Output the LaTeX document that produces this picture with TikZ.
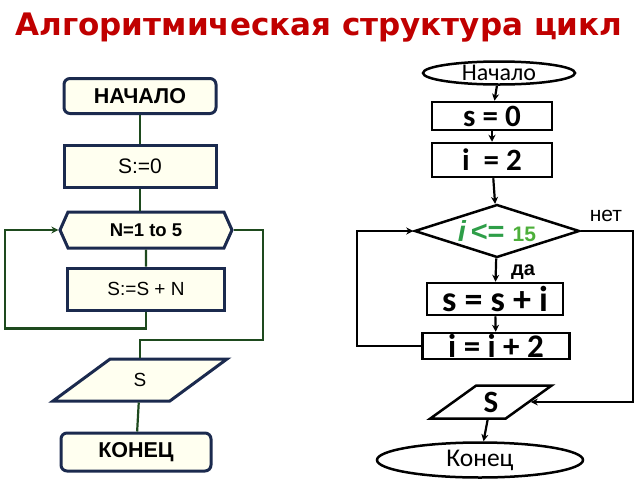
\documentclass[tikz,border=0pt]{standalone}
\usepackage{fontspec}
\setmainfont{Liberation Sans}
\newfontfamily\titlefont{DejaVu Sans}
\newfontfamily\calfont{Carlito}
\usepackage{tikz}
\usetikzlibrary{shapes.geometric}
\usetikzlibrary{shapes.symbols}
\usetikzlibrary{arrows.meta}
\definecolor{navy}{HTML}{1B2A4E}
\definecolor{cream}{HTML}{FFFFF0}
\definecolor{wire}{HTML}{1E4A1E}
\definecolor{titlered}{HTML}{C00000}
\definecolor{condgreen}{HTML}{2E9E48}
\definecolor{numgreen}{HTML}{4DAF3A}

\begin{document}
\begin{tikzpicture}[x=1pt,y=-1pt]

\tikzset{
  blk/.style={draw=navy, line width=3pt, fill=cream, inner sep=0pt,
    font=\fontsize{19}{21}\selectfont},
  term/.style={blk, rounded corners=6pt, font=\bfseries\fontsize{21.5}{23}\selectfont},
  wireline/.style={draw=wire, line width=2.2pt},
  box/.style={draw, line width=2.5pt, inner sep=0pt, font=\calfont\bfseries\fontsize{31}{33}\selectfont},
  oval/.style={box, ellipse, font=\calfont\fontsize{24}{26}\selectfont},
  flow/.style={line width=2.2pt, -{Stealth[length=7pt,width=7pt]}},
  lbl/.style={font=\fontsize{21}{23}\selectfont}
}
\useasboundingbox (0,0) rectangle (640,480);

\node[font=\titlefont\bfseries\fontsize{31}{34}\selectfont, text=titlered] (title) at (319,28) {Алгоритмическая структура цикл};

% left chart
\node[term, minimum width=152pt, minimum height=35pt] (start) at (140,96) {НАЧАЛО};
\node[blk, minimum width=152pt, minimum height=42pt, font=\fontsize{21}{23}\selectfont] (s0) at (140,166) {S:=0};
\node[blk, signal, signal to=west and east, signal pointer angle=132,
  minimum width=172pt, minimum height=36pt, font=\bfseries\fontsize{18.5}{20}\selectfont] (cyc) at (146,230) {N=1 to 5};
\node[blk, minimum width=157pt, minimum height=42pt] (body) at (146,289) {S:=S + N};
\node[blk, trapezium, trapezium left angle=48, trapezium right angle=132,
  trapezium stretches=true, minimum width=174pt, minimum height=42pt] (outL) at (140,380) {S};
\node[term, minimum width=150pt, minimum height=38pt] (endL) at (136,452) {КОНЕЦ};

\coordinate (lp) at (5,230);
\coordinate (rp) at (263,340);
\draw[wireline] (start) -- (s0);
\draw[wireline] (s0) -- (s0 |- cyc.north);
\draw[wireline] (cyc) -- (body);
\draw[wireline, -{Stealth[length=7pt,width=7pt]}] (body.south) -- ++(0,17) -| (lp) -- (cyc.west);
\draw[wireline] (cyc.east) -| (rp) -| (outL.north);
\draw[wireline] (outL) -- (endL);

% right chart
\node[oval, minimum width=152pt, minimum height=23pt] (beg) at (499,73) {Начало};
\node[box, minimum width=120pt, minimum height=28pt] (r1) at (492,116) {s = 0};
\node[box, minimum width=120pt, minimum height=34pt] (r2) at (492,160) {i \ = 2};
\node[box, diamond, aspect=3.1, minimum width=165pt, minimum height=53pt,
  font=\bfseries\fontsize{29}{31}\selectfont] (cond) at (497,231)
  {\textcolor{condgreen}{\itshape i\,\upshape <=} \textcolor{numgreen}{\fontsize{21}{23}\selectfont 15}};
\node[box, minimum width=136pt, minimum height=32pt, font=\calfont\bfseries\fontsize{36}{38}\selectfont] (r3) at (495,299) {s = s + i};
\node[box, minimum width=147pt, minimum height=26pt, font=\calfont\bfseries\fontsize{33}{35}\selectfont] (r4) at (496,346) {i = i + 2};
\node[box, trapezium, trapezium left angle=42, trapezium right angle=138,
  trapezium stretches=true, minimum width=122pt, minimum height=33pt,
  font=\calfont\bfseries\fontsize{31}{33}\selectfont] (outR) at (491,402) {S};
\node[oval, minimum width=206pt, minimum height=35pt, font=\calfont\fontsize{25.5}{27}\selectfont] (fin) at (480,460) {Конец};

\node[lbl] (no) at (606,216) {нет};
\node[lbl, font=\bfseries\fontsize{20}{22}\selectfont] (yes) at (523,272) {да};

\coordinate (lq) at (357,231);
\coordinate (rq) at (633,402);
\draw[flow] (beg) -- (r1);
\draw[flow] (r1) -- (r2);
\draw[flow] (r2) -- (cond);
\draw[flow] (cond) -- (r3);
\draw[flow] (r3) -- (r4);
\draw[flow] (r4.west) -| (lq) -- (cond.west);
\draw[flow] (cond.east) -| (rq) -- (outR.right side);
\draw[flow] (outR) -- (fin);

\end{tikzpicture}
\end{document}
